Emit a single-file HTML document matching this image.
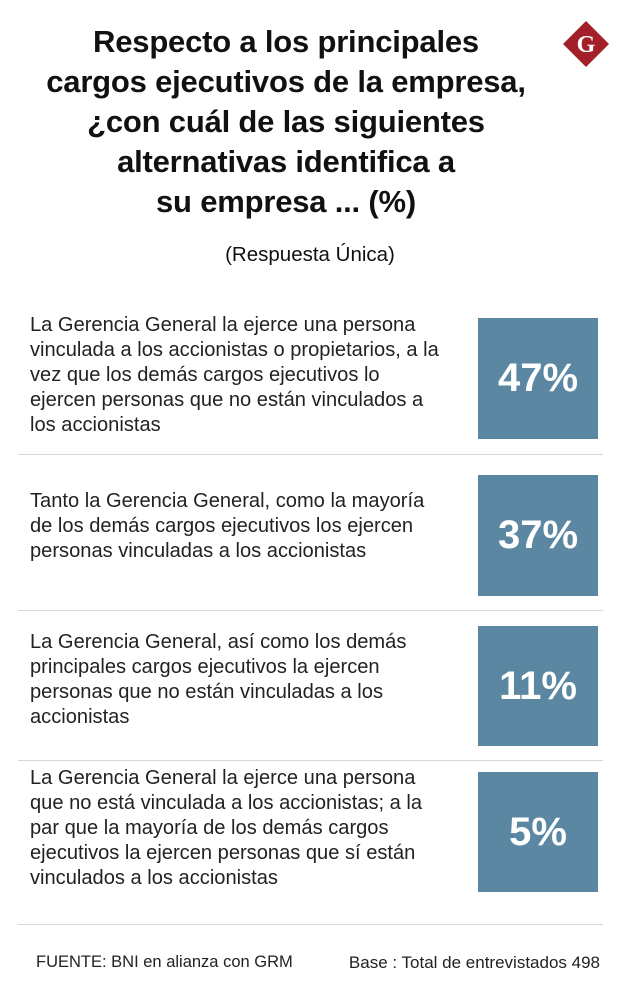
<!DOCTYPE html>
<html><head><meta charset="utf-8">
<style>
body{margin:0;width:620px;height:1008px;background:#fff;font-family:"Liberation Sans",sans-serif;position:relative;overflow:hidden;color:#111}
.t{position:absolute;left:0;width:572px;text-align:center;font-weight:bold;font-size:31px;line-height:40px;top:22px;letter-spacing:-0.2px}
.sub{position:absolute;left:0;width:620px;text-align:center;font-size:20.5px;top:243px}
.txt{position:absolute;left:30px;width:445px;font-size:20.1px;line-height:25px;color:#222;white-space:nowrap}
.box{position:absolute;left:478px;width:120px;background:#5b87a3;color:#fff;font-weight:bold;font-size:40px;display:flex;align-items:center;justify-content:center}
.sep{position:absolute;left:18px;width:585px;height:1px;background:#d6d6d6}
.foot{position:absolute;top:953px;font-size:17px;color:#222}
</style></head><body>
<div class="t">Respecto a los principales<br>cargos ejecutivos de la empresa,<br>¿con cuál de las siguientes<br>alternativas identifica a<br>su empresa ... (%)</div>
<div class="sub">(Respuesta Única)</div>
<svg style="position:absolute;left:562px;top:20px" width="48" height="48"><polygon points="24,1 47,24 24,47 1,24" fill="#a31f2a"/><text x="24" y="32" text-anchor="middle" font-family="Liberation Serif" font-weight="bold" font-size="24" fill="#fff">G</text></svg>
<div id="rows"></div>
<div class="sep" style="top:924px"></div>
<div class="foot" style="left:36px;font-size:16.5px">FUENTE: BNI en alianza con GRM</div>
<div class="foot" style="right:20px">Base : Total de entrevistados 498</div>
<script>
const categories=[
"La Gerencia General la ejerce una persona<br>vinculada a los accionistas o propietarios, a la<br>vez que los demás cargos ejecutivos lo<br>ejercen personas que no están vinculados a<br>los accionistas",
"Tanto la Gerencia General, como la mayoría<br>de los demás cargos ejecutivos los ejercen<br>personas vinculadas a los accionistas",
"La Gerencia General, así como los demás<br>principales cargos ejecutivos la ejercen<br>personas que no están vinculadas a los<br>accionistas",
"La Gerencia General la ejerce una persona<br>que no está vinculada a los accionistas; a la<br>par que la mayoría de los demás cargos<br>ejecutivos la ejercen personas que sí están<br>vinculados a los accionistas"];
const values=[47,37,11,5];
const layout=[[318,121,313,454],[475,121,489,610],[626,120,630,760],[772,120,766,0]];
const root=document.getElementById('rows');
categories.forEach((c,i)=>{
 const [by,bh,ty,sy]=layout[i];
 const t=document.createElement('div');t.className='txt';t.style.top=ty+'px';t.innerHTML=c;
 
 
 root.appendChild(t);
 const b=document.createElement('div');b.className='box';b.style.top=by+'px';b.style.height=bh+'px';b.textContent=values[i]+'%';
 
 
 root.appendChild(b);
 if(sy){const s=document.createElement('div');s.className='sep';s.style.top=sy+'px';
 
 
 root.appendChild(s);}
});
</script>
</body></html>
